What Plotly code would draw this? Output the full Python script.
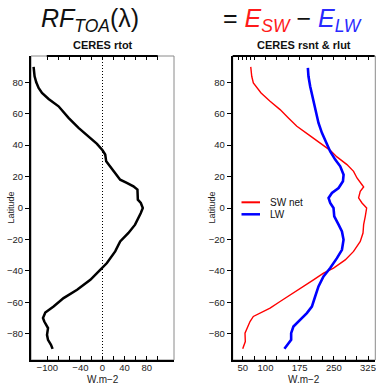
import plotly.graph_objects as go

# ---- data ----
lat_rtot = [89.8, 83.8, 80, 76.4, 73.2, 69.4, 64.7, 57.3, 51, 45.2, 40.8, 36.7, 34, 29.7, 26.5,
            21.2, 18, 16, 13.8, 11.7, 5.3, 3.2, 0, -3.2, -10.6, -15.9, -21.3, -27.6, -35, -39.3,
            -45.7, -52, -57.3, -62.7, -66.5, -70, -72.2, -76.4, -80.7, -83.9, -87, -89.6]
rtot = [-124.8, -123, -120, -115.7, -109.6, -97.6, -79.6, -61.5, -43.4, -25.3, -10, 0, 4.9, 6.7, 14,
        26, 32, 44, 56, 63.3, 64, 69.4, 73, 69.4, 59, 47, 32, 23, 8, -4.2,
        -22, -46, -70.5, -88.6, -103.6, -107.8, -105.4, -98.7, -100.5, -98.7, -93.3, -90.4]

lat_sw = [89.8, 83.8, 79.6, 76.4, 73.2, 67.9, 62.6, 57.3, 52, 46.7, 41.4, 36.7, 32.5, 27.6, 23.3,
          19.1, 14.8, 13.4, 10.6, 6.4, 3.2, 0, -5.3, -10.6, -15.9, -21.3, -27.6, -33, -38.2, -41.4,
          -45.7, -51, -55.2, -59.5, -63.7, -66.9, -69, -72.2, -77.5, -79.6, -85, -89.6]
sw_net = [67.6, 69.8, 73.3, 80.8, 90.3, 110, 132, 150.3, 168.8, 194.3, 220, 242, 256.8, 278.8, 293.3,
          300.8, 311.8, 315.4, 308, 304.3, 311.8, 322, 319, 315.4, 314, 308, 293.3, 275, 249.3, 227.3,
          205.3, 176, 154, 132, 110, 88, 73.3, 66, 58.8, 55, 55.7, 50]

lat_lw = [89.2, 83.8, 77.4, 71, 62.6, 54.1, 47.8, 41.4, 36, 30.8, 26.5, 21.2, 17, 12.7, 9.6, 6.4,
          3.2, 0, -5.3, -10.6, -14.9, -20.2, -26.6, -31.9, -38.2, -43.6, -49.9, -56.3, -62.7, -66.9,
          -71.1, -75.4, -79.6, -83.9, -87, -89.6]
lw = [193, 194.3, 198, 203, 209, 216.3, 223.8, 233.3, 242, 253, 264, 271.4, 270, 260.4, 245.8, 238.4,
      242, 249.3, 250.9, 260.4, 267.8, 271.3, 267.8, 256.8, 242, 227.3, 216.3, 209, 201.8, 190.8,
      176, 161.3, 156.3, 156.3, 148.1, 141.5]

series_names = ["SW net", "LW"]
lat_ticks = [-80, -60, -40, -20, 0, 20, 40, 60, 80]
x1_ticks = list(range(-100, 101, 20))
x1_labels = {-100: "\u2212100", -40: "\u221240", 0: "0", 40: "40", 80: "80"}
x2_ticks = list(range(50, 326, 25))
x2_labels = {50: "50", 100: "100", 175: "175", 250: "250", 325: "325"}
x2_top_ticks = [40, 50, 59, 67] + list(range(75, 326, 25))

FONT = "Liberation Sans, Arial, Helvetica, sans-serif"
W, H = 376, 385
RED, BLUE = "#ff0000", "#0000ff"

def px_x(p):
    return p / W

def px_y(p):
    return 1 - p / H

dom1 = [px_x(31), px_x(174)]
dom2 = [px_x(232.7), px_x(375.3)]
ydom = [px_y(360), px_y(56)]
XR1 = [-129.5, 129.5]
XR2 = [28, 341]
YR = [-96.7, 96.7]

fig = go.Figure()
fig.add_trace(go.Scatter(x=rtot, y=lat_rtot, mode="lines", line=dict(color="black", width=2.5),
                         xaxis="x", yaxis="y", showlegend=False, hoverinfo="skip"))
fig.add_trace(go.Scatter(x=sw_net, y=lat_sw, mode="lines", line=dict(color=RED, width=1.4),
                         xaxis="x2", yaxis="y2", name=series_names[0], showlegend=False))
fig.add_trace(go.Scatter(x=lw, y=lat_lw, mode="lines", line=dict(color=BLUE, width=2.6),
                         xaxis="x2", yaxis="y2", name=series_names[1], showlegend=False))
# invisible companions so the top tick-only axes are drawn
fig.add_trace(go.Scatter(x=rtot, y=lat_rtot, mode="lines", line=dict(width=0), opacity=0,
                         xaxis="x3", yaxis="y", showlegend=False, hoverinfo="skip"))
fig.add_trace(go.Scatter(x=sw_net, y=lat_sw, mode="lines", line=dict(width=0), opacity=0,
                         xaxis="x4", yaxis="y2", showlegend=False, hoverinfo="skip"))

tickfont = dict(family=FONT, size=9.5, color="#222")

def xax(dom, rng, tv, labels, anchor):
    return dict(domain=dom, range=rng, anchor=anchor, tickmode="array", tickvals=tv,
                ticktext=[labels.get(v, "") for v in tv], ticks="inside", ticklen=4,
                tickcolor="black", tickwidth=1, showline=True, linecolor="black", linewidth=2,
                showgrid=False, zeroline=False, tickfont=tickfont, fixedrange=True,
                ticklabelstandoff=-2)

def yax(anchor):
    return dict(domain=ydom, range=YR, anchor=anchor, tickmode="array", tickvals=lat_ticks,
                ticktext=[str(v).replace("-", "\u2212") for v in lat_ticks], ticks="outside",
                ticklen=4, tickcolor="black", tickwidth=1, showline=True, linecolor="black",
                linewidth=2, showgrid=False, zeroline=False, tickfont=tickfont, fixedrange=True)

def topax(dom, rng, tv, overlay, anchor):
    return dict(domain=dom, range=rng, overlaying=overlay, anchor=anchor, side="top",
                tickmode="array", tickvals=tv, showticklabels=False, ticks="inside", ticklen=4,
                tickcolor="black", tickwidth=1, showline=False, showgrid=False, zeroline=False,
                fixedrange=True)

fig.update_layout(
    width=W, height=H, margin=dict(l=0, r=0, t=0, b=0),
    paper_bgcolor="white", plot_bgcolor="rgba(0,0,0,0)",
    font=dict(family=FONT, color="black"),
    showlegend=False,
    xaxis=xax(dom1, XR1, x1_ticks, x1_labels, "y"),
    yaxis=yax("x"),
    xaxis2=xax(dom2, XR2, x2_ticks, x2_labels, "y2"),
    yaxis2=yax("x2"),
    xaxis3=topax(dom1, XR1, x1_ticks, "x", "y"),
    xaxis4=topax(dom2, XR2, x2_top_ticks, "x2", "y2"),
)

shapes = []
# thin grey frame
for d in (dom1, dom2):
    shapes.append(dict(type="rect", xref="paper", yref="paper", x0=d[0], x1=d[1],
                       y0=ydom[0], y1=ydom[1], line=dict(color="#8a8a8a", width=1), layer="below"))
# thick black top segments
shapes.append(dict(type="line", xref="x", yref="paper", x0=-101, x1=100, y0=ydom[1], y1=ydom[1],
                   line=dict(color="black", width=2)))
shapes.append(dict(type="line", xref="paper", yref="paper", x0=dom2[0], x1=dom2[1] - 0.002,
                   y0=ydom[1], y1=ydom[1], line=dict(color="black", width=2)))
# dotted zero line
shapes.append(dict(type="line", xref="x", yref="paper", x0=0, x1=0, y0=ydom[0], y1=ydom[1],
                   line=dict(color="black", width=1, dash="1px,2px"), layer="below"))
# manual legend samples
shapes.append(dict(type="line", xref="paper", yref="paper", x0=px_x(241.5), x1=px_x(260),
                   y0=px_y(202.3), y1=px_y(202.3), line=dict(color=RED, width=2)))
shapes.append(dict(type="line", xref="paper", yref="paper", x0=px_x(241.5), x1=px_x(260),
                   y0=px_y(214.3), y1=px_y(214.3), line=dict(color=BLUE, width=2.5)))
fig.update_layout(shapes=shapes)

ann = []
ann.append(dict(text="<i>RF</i><sub><i>TOA</i></sub>(\u03bb)", x=px_x(90), y=px_y(20),
                xref="paper", yref="paper", showarrow=False, xanchor="center", yanchor="middle",
                font=dict(family=FONT, size=25, color="#111")))
ann.append(dict(text="= <span style='color:#ff1a1a'><i>E</i><sub><i>SW</i></sub></span> \u2212 "
                     "<span style='color:#2a2aff'><i>E</i><sub><i>LW</i></sub></span>",
                x=px_x(292), y=px_y(20), xref="paper", yref="paper", showarrow=False,
                xanchor="center", yanchor="middle", font=dict(family=FONT, size=25, color="#111")))
ann.append(dict(text="<b>CERES rtot</b>", x=px_x(102.5), y=px_y(45), xref="paper", yref="paper",
                showarrow=False, xanchor="center", yanchor="middle",
                font=dict(family=FONT, size=11, color="#111")))
ann.append(dict(text="<b>CERES rsnt &amp; rlut</b>", x=px_x(304), y=px_y(45), xref="paper",
                yref="paper", showarrow=False, xanchor="center", yanchor="middle",
                font=dict(family=FONT, size=11, color="#111")))
for cx in (102.5, 304):
    ann.append(dict(text="W.m\u22122", x=px_x(cx), y=px_y(379), xref="paper", yref="paper",
                    showarrow=False, xanchor="center", yanchor="middle",
                    font=dict(family=FONT, size=10, color="#222")))
for cx in (10.5, 211.5):
    ann.append(dict(text="Latitude", x=px_x(cx), y=px_y(208), xref="paper", yref="paper",
                    showarrow=False, xanchor="center", yanchor="middle", textangle=-90,
                    font=dict(family=FONT, size=9, color="#222")))
for name, yy in zip(series_names, (202.3, 214.3)):
    ann.append(dict(text=name, x=px_x(267.5), y=px_y(yy), xref="paper", yref="paper",
                    showarrow=False, xanchor="left", yanchor="middle",
                    font=dict(family=FONT, size=10, color="#111")))
fig.update_layout(annotations=ann)

fig.write_html("out.html")
